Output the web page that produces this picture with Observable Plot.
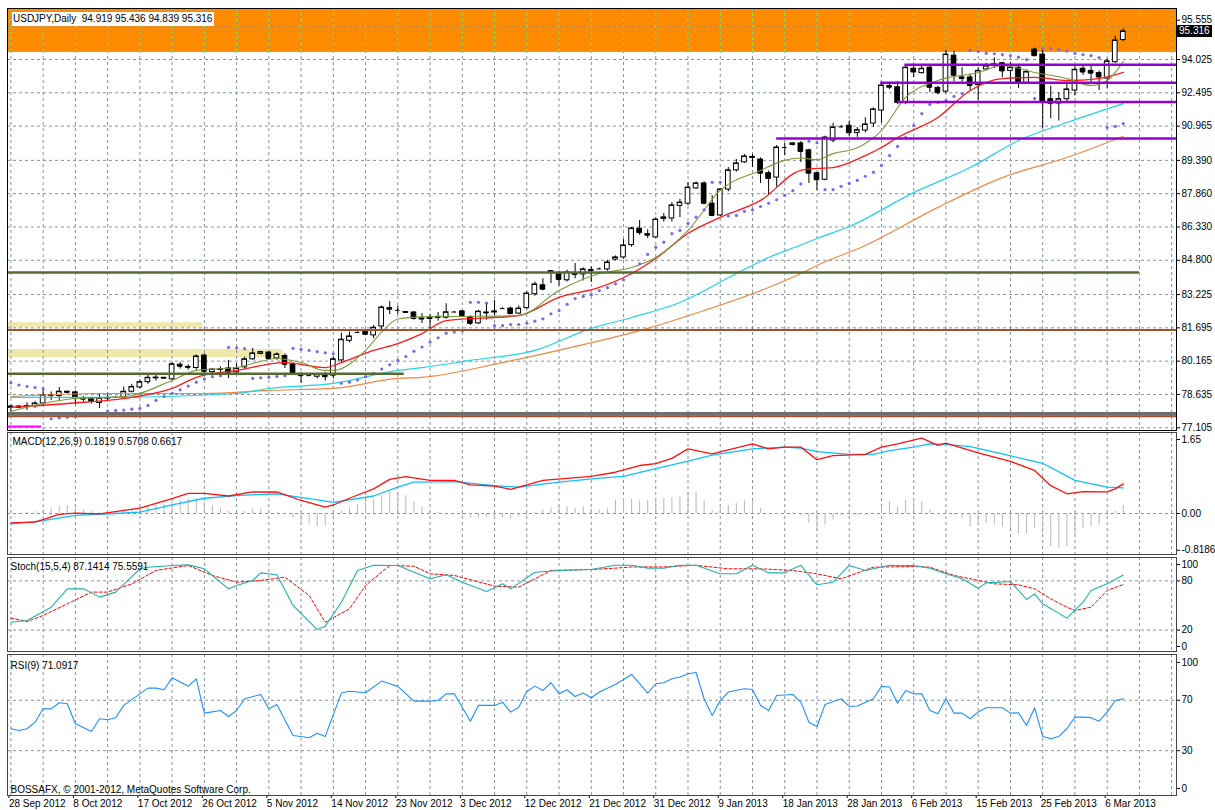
<!DOCTYPE html>
<html><head><meta charset="utf-8">
<script src="https://cdn.jsdelivr.net/npm/d3@7"></script>
<script src="https://cdn.jsdelivr.net/npm/@observablehq/plot@0.6"></script>
<style>
body{margin:0;background:#fff;}
#chart{position:relative;width:1215px;height:810px;background:#fff;font-family:"Liberation Sans",Arial,sans-serif;font-size:10px;overflow:hidden}
#chart svg{position:absolute;left:0;}
.title{position:absolute;left:12px;top:12px;background:#fff;padding:0 2px 0 1px;font-size:10px;line-height:14px;color:#000;white-space:pre}
.pricebox{position:absolute;left:1177px;top:25px;background:#000;color:#fff;padding:0 2px;font-size:10px;line-height:12px}
</style></head><body><div id="chart"></div>
<script>
// ---------- DATA ----------
const chartTitle = "USDJPY,Daily  94.919 95.436 94.839 95.316";
const lastPrice = 95.316;
const macdLabel = "MACD(12,26,9) 0.1819 0.5708 0.6617";
const stochLabel = "Stoch(15,5,4) 87.1414 75.5591";
const rsiLabel = "RSI(9) 71.0917";
const copyright = "BOSSAFX, \u00a9 2001-2012, MetaQuotes Software Corp.";

const dateLabels = ["28 Sep 2012","8 Oct 2012","17 Oct 2012","26 Oct 2012","5 Nov 2012","14 Nov 2012","23 Nov 2012","3 Dec 2012","12 Dec 2012","21 Dec 2012","31 Dec 2012","9 Jan 2013","18 Jan 2013","28 Jan 2013","6 Feb 2013","15 Feb 2013","25 Feb 2013","6 Mar 2013"];
const labelBars = [0,8,16,24,32,40,48,56,64,72,80,88,96,104,112,120,128,136];

const priceTicks = [95.555,94.025,92.495,90.965,89.390,87.860,86.330,84.800,83.225,81.695,80.165,78.635,77.105];
const topPriceTick = [95.555];
const lowerPriceTicks = priceTicks.slice(1);
const macdTicks = [1.65, 0, -0.8186];
const macdTickText = ["1.65","0.00","-0.8186"];
const stochTicks = [100, 80, 20, 0];
const stochLevels = [80, 20];
const rsiTicks = [100, 70, 30, 0];
const rsiLevels = [70, 30];

const open = [78.02,78.08,78.05,78.1,78.22,78.57,78.56,78.76,78.73,78.45,
78.42,78.24,78.45,78.5,78.48,78.76,78.96,79.2,79.38,79.4,
79.33,80.0,79.9,79.85,80.42,79.66,79.76,79.83,79.65,79.88,
80.25,80.5,80.56,80.29,80.4,80.02,79.53,79.5,79.45,79.55,
79.5,80.2,81.1,81.48,81.5,81.35,81.76,82.6,82.5,82.42,
82.4,82.13,82.1,82.15,82.16,82.42,82.45,82.18,81.9,82.4,
82.4,82.58,82.58,82.35,82.6,83.24,83.65,84.3,84.18,83.88,
84.2,84.15,84.35,84.4,84.38,84.83,84.93,85.5,86.25,86.0,
85.85,86.7,86.72,87.3,87.4,88.1,88.33,87.4,86.86,88.05,
88.93,89.3,89.55,89.43,88.8,88.6,89.98,90.1,90.17,89.85,
88.8,88.5,90.3,90.93,90.98,90.65,90.76,91.08,91.68,92.8,
92.75,92.05,93.6,93.4,93.65,92.72,92.55,94.2,93.2,93.2,
92.85,93.57,93.72,93.85,93.5,93.65,92.95,94.48,94.25,92.2,
92.0,92.2,92.6,93.6,93.5,93.4,93.15,93.9,94.919];
const high = [78.15,78.12,78.25,78.3,78.82,78.75,78.96,78.78,78.8,78.55,
78.5,78.68,78.7,78.55,78.98,79.1,79.3,79.55,79.55,79.42,
80.1,80.1,80.0,80.45,80.5,79.82,79.9,80.2,80.05,80.35,
80.75,80.6,80.6,80.55,80.5,80.1,79.65,79.53,79.6,79.65,
80.35,81.45,81.5,81.52,81.6,81.8,82.7,82.9,82.7,82.45,
82.45,82.35,82.3,82.4,82.8,82.45,82.5,82.25,82.5,82.85,
82.95,82.62,82.65,82.7,83.35,83.8,83.95,84.33,84.3,84.35,
84.65,84.45,84.5,84.44,84.8,85.0,85.75,86.3,86.63,86.2,
86.75,86.95,87.45,87.6,88.37,88.4,88.4,87.77,88.1,89.06,
89.43,89.66,89.66,89.5,88.9,90.07,90.17,90.2,90.25,89.9,
88.85,90.5,91.1,91.0,91.2,90.9,91.35,91.8,92.9,92.9,
93.0,93.75,93.75,93.8,93.7,92.8,94.45,94.4,93.65,93.35,
93.65,93.85,94.1,93.9,93.9,93.8,93.55,94.55,94.45,92.8,
92.5,92.95,93.7,93.7,93.7,93.5,94.05,95.1,95.436];
const low = [77.85,77.98,77.9,78.0,78.12,78.36,78.36,78.7,78.15,78.3,
78.2,77.99,78.3,78.45,78.45,78.7,78.9,79.1,79.25,79.36,
79.25,79.8,79.75,79.75,79.6,79.6,79.6,79.37,79.55,79.8,
80.2,80.46,80.2,80.2,79.83,79.5,79.15,79.46,79.35,79.25,
79.35,80.1,81.0,81.44,81.35,81.2,81.6,82.3,82.3,82.38,
82.05,81.9,81.66,82.0,82.1,82.39,82.2,81.8,81.85,82.05,
82.25,82.54,82.3,82.3,82.55,83.15,83.4,83.73,83.62,83.8,
83.95,83.85,83.78,84.36,84.3,84.78,84.85,85.4,85.95,85.8,
85.8,86.55,86.55,86.76,87.3,88.05,87.35,86.8,86.8,87.95,
88.85,89.25,89.06,88.33,87.77,88.15,89.6,90.05,89.3,88.33,
88.0,88.45,90.2,90.88,90.5,90.45,90.65,90.9,91.1,92.65,
91.95,91.95,93.2,93.35,92.5,92.4,92.45,93.0,92.9,92.6,
92.15,93.5,93.62,93.2,92.9,92.7,92.9,94.15,90.85,91.3,
91.2,92.1,92.35,93.3,92.9,92.6,92.7,93.85,94.839];
const close = [78.08,78.04,78.1,78.22,78.59,78.6,78.76,78.73,78.45,78.42,
78.32,78.45,78.48,78.5,78.76,78.98,79.2,79.4,79.41,79.38,
80.02,79.93,79.88,80.38,79.7,79.78,79.79,79.65,79.83,80.25,
80.52,80.58,80.29,80.47,80.02,79.6,79.5,79.5,79.55,79.45,
80.25,81.15,81.3,81.48,81.4,81.7,82.63,82.55,82.5,82.4,
82.13,82.1,82.17,82.2,82.41,82.42,82.26,81.9,82.44,82.38,
82.45,82.58,82.35,82.58,83.27,83.69,83.47,84.25,83.92,84.24,
84.15,84.38,84.32,84.4,84.7,84.93,85.48,86.26,86.07,85.95,
86.67,86.77,87.32,87.45,88.14,88.33,87.42,86.86,88.05,88.93,
89.25,89.57,89.52,88.8,88.56,89.98,89.98,90.17,89.8,88.8,
88.5,90.44,90.9,90.93,90.66,90.78,91.04,91.73,92.83,92.75,
92.05,93.65,93.45,93.6,92.75,92.5,94.25,93.3,93.15,92.83,
93.5,93.72,93.8,93.5,93.65,92.95,93.45,94.2,92.1,92.0,
92.2,92.65,93.55,93.45,93.4,93.22,93.94,94.9,95.316];

const sar = [79.17,79.07,79.0,78.95,78.9,77.52,77.56,77.59,77.62,77.66,
77.7,77.74,77.87,77.9,77.92,77.96,78.0,78.13,78.36,78.54,
78.69,78.85,79.02,79.2,79.35,79.45,79.5,80.8,80.78,80.74,
79.37,79.4,79.43,79.47,79.5,80.75,80.71,80.66,80.6,80.55,
80.5,79.15,79.2,79.3,79.45,79.6,79.8,80.0,80.2,80.38,
80.62,80.81,81.04,81.24,81.45,81.5,81.55,82.87,82.87,82.83,
81.8,81.8,81.85,81.85,81.91,82.0,82.11,82.34,82.49,82.78,
83.04,83.14,83.22,83.41,83.54,83.72,83.9,84.21,84.64,85.07,
85.4,85.63,86.02,86.17,86.5,86.78,87.12,88.38,88.38,86.84,
86.86,87.05,87.12,87.27,87.42,87.58,87.78,88.0,88.31,90.27,
90.2,88.05,88.05,88.2,88.33,88.47,88.66,88.84,89.16,89.61,
90.03,90.44,90.99,91.54,91.96,92.05,92.14,92.33,92.46,94.44,
94.39,94.31,94.29,94.25,94.2,94.13,94.02,92.23,94.53,94.53,
94.48,94.41,94.31,94.25,94.2,94.11,90.9,90.95,91.08];

// moving averages read at sample bars: [bar, price]
const maFast = [[0,77.85],[4,78.22],[8,78.45],[12,78.5],[15,78.59],[20,79.28],[23,79.74],[28,79.87],[33,80.29],[36,80.1],[39,79.74],[40,79.74],[44,80.66],[46,81.5],[48,82.1],[51,82.2],[56,82.22],[63,82.26],[68,83.41],[73,84.19],[77,84.47],[80,84.93],[84,86.17],[88,88.01],[93,88.93],[96,89.39],[98,89.5],[100,89.42],[102,89.7],[105,89.97],[108,90.76],[111,92.28],[115,93.06],[120,93.43],[123,93.75],[127,93.43],[131,93.15],[134,92.83],[136,93.06],[138,93.93]];
const maRed = [[0,78.04],[7,78.22],[15,78.5],[20,78.91],[23,79.42],[28,79.74],[34,80.1],[39,79.87],[41,80.1],[45,80.66],[48,80.97],[51,81.43],[54,82.03],[63,82.26],[68,83.1],[73,83.55],[77,84.19],[80,84.88],[84,86.03],[88,86.77],[93,87.55],[98,88.93],[100,89.02],[102,89.06],[106,89.61],[108,89.98],[110,90.44],[115,91.36],[119,92.6],[123,93.15],[127,93.2],[131,93.06],[135,93.15],[138,93.43]];
const maCyan = [[0,78.5],[11,78.5],[28,78.68],[32,78.91],[40,79.14],[48,79.74],[51,79.87],[57,80.2],[65,80.66],[72,81.67],[77,82.17],[83,82.86],[90,84.19],[94,84.93],[98,85.5],[100,85.8],[104,86.35],[112,87.91],[119,89.06],[125,90.3],[131,91.13],[138,92.0]];
const maOrange = [[0,78.54],[11,78.68],[24,78.68],[32,78.82],[40,78.91],[48,79.37],[51,79.42],[61,80.1],[69,80.75],[79,81.67],[86,82.49],[94,83.55],[98,84.19],[100,84.56],[106,85.48],[115,87.23],[123,88.6],[131,89.52],[138,90.5]];

// chart objects (price levels, bar extents)
const zoneOrange = [{lo: 94.35, hi: 96.6, from: -2, to: 146}];
const zoneYellow = [{lo: 81.71, hi: 81.93, from: -2, to: 23.8},{lo: 80.33, hi: 80.70, from: -2, to: 33.8}];
const linesPurple = [{price: 93.78, from: 110.9, to: 146},{price: 92.955, from: 107.9, to: 146},{price: 92.07, from: 110, to: 146},{price: 90.40, from: 95, to: 146}];
const linesOlive = [{price: 84.24, from: -2, to: 140},{price: 79.59, from: -2, to: 48.8}];
const linesBrown = [{price: 81.60, from: -2, to: 146},{price: 77.63, from: -2, to: 146}];
const linesGray = [{price: 77.75, from: -2, to: 146}];
const linesMagenta = [{price: 77.16, from: -2, to: 3.8}];

// MACD
const macdHist = [0,0.01,0.02,0.04,0.08,0.12,0.16,0.17,0.12,0.08,
0.05,0.03,0.04,0.05,0.08,0.1,0.13,0.18,0.2,0.25,
0.27,0.3,0.32,0.33,0.25,0.18,0.12,0.05,0.02,0.05,
0.1,0.1,0.06,0.02,-0.02,-0.1,-0.2,-0.25,-0.3,-0.28,
-0.1,0.05,0.12,0.2,0.25,0.3,0.4,0.47,0.45,0.4,
0.25,0.15,0.05,0.02,0,-0.02,-0.05,-0.1,-0.1,-0.08,
-0.1,-0.1,-0.12,-0.08,-0.05,0.02,0.08,0.12,0.18,0.15,
0.12,0.15,0.1,0.07,0.1,0.3,0.33,0.32,0.28,0.3,
0.31,0.33,0.35,0.37,0.45,0.47,0.3,0.07,0.15,0.18,
0.22,0.28,0.28,0.11,0,-0.02,0.02,0.02,-0.05,-0.22,
-0.41,-0.26,-0.15,-0.05,-0.04,-0.04,-0.04,0,0.15,0.26,
0.15,0.3,0.33,0.26,0.07,-0.02,-0.01,-0.04,-0.11,-0.3,
-0.19,-0.22,-0.26,-0.3,-0.33,-0.45,-0.45,-0.33,-0.45,-0.74,
-0.78,-0.74,-0.48,-0.33,-0.3,-0.26,-0.04,0.05,0.18];
const macdMain = [[0,-0.21],[3,-0.19],[6,-0.02],[8,0.01],[11,-0.01],[16,0.12],[20,0.33],[22,0.45],[24,0.45],[27,0.39],[30,0.48],[33,0.48],[36,0.29],[39,0.14],[40,0.19],[42,0.34],[45,0.55],[47,0.76],[49,0.82],[52,0.74],[55,0.74],[57,0.64],[60,0.61],[62,0.54],[66,0.74],[72,0.83],[75,0.92],[78,1.07],[80,1.11],[82,1.23],[84,1.44],[87,1.33],[92,1.55],[94,1.44],[96,1.48],[98,1.48],[100,1.2],[102,1.29],[106,1.32],[108,1.48],[110,1.55],[113,1.68],[115,1.52],[116,1.57],[120,1.35],[124,1.16],[127,0.96],[129,0.62],[131,0.44],[133,0.49],[136,0.48],[137,0.55],[138,0.66]];
const macdSignal = [[0,-0.23],[4,-0.16],[8,-0.04],[13,0],[16,0.03],[20,0.19],[24,0.34],[28,0.4],[33,0.44],[37,0.33],[40,0.25],[45,0.39],[48,0.59],[50,0.7],[55,0.71],[60,0.62],[63,0.59],[68,0.7],[73,0.79],[76,0.83],[80,1.0],[84,1.17],[87,1.3],[92,1.44],[96,1.48],[98,1.46],[100,1.38],[104,1.32],[107,1.32],[109,1.4],[112,1.48],[114,1.55],[116,1.54],[119,1.49],[123,1.33],[126,1.2],[128,1.12],[132,0.74],[136,0.59],[138,0.57]];

// Stochastic
const stochMain = [[0,29.6],[2,31.7],[5,47.9],[7,70.3],[9,70.3],[11,60.2],[13,66.3],[16,94.7],[17,96.7],[20,98.8],[22,99.5],[24,94.7],[25,86.6],[27,70.3],[28,74.4],[30,80.5],[31,89.8],[33,87.4],[35,50],[38,20.7],[39,24.8],[41,54],[43,92.7],[45,99],[48,98.8],[52,82.5],[54,87.4],[56,78.4],[59,67],[61,76.4],[62,70.3],[65,90.6],[68,92.7],[72,93.9],[75,99],[77,99],[79,95.5],[81,95.5],[83,99],[85,99],[88,88.6],[90,88.6],[92,99],[94,89.8],[96,89.8],[98,99],[100,75.2],[102,78.4],[104,98.8],[106,92.7],[109,99],[110,98.8],[112,98.8],[114,95.5],[116,88.6],[118,82.5],[120,71.1],[121,77.6],[124,79.3],[126,57.3],[127,64.2],[128,52],[131,34.6],[133,54],[134,68.3],[136,76.4],[138,87.1]];
const stochSignal = [[0,34.6],[2,30.5],[4,37.8],[7,52],[10,66.3],[12,66.3],[15,76.4],[18,92.7],[22,98.8],[25,86.6],[28,78.4],[31,80.5],[34,84.5],[37,62.2],[39,29.6],[42,45.9],[44,74.4],[47,98.8],[50,97.9],[52,88.6],[55,86.6],[60,73.6],[63,72.4],[67,92.7],[72,93.9],[75,95.5],[77,97],[81,97],[85,99],[89,94.7],[93,94.7],[97,92.7],[100,88.6],[103,82.5],[107,96.7],[112,97.5],[114,96.7],[117,86.6],[120,80.5],[122,76.4],[125,75.2],[127,70.3],[129,58.2],[131,47.9],[132,43.9],[134,47.9],[136,68.3],[138,75.6]];

// RSI
const rsi = [[0,47.4],[1,46],[2,47.4],[3,52.6],[4,63.2],[5,63.2],[6,68],[7,67.2],[8,51.3],[10,45.2],[11,55.3],[12,54.5],[13,56.1],[14,65.9],[16,75.1],[17,79.6],[18,79.6],[19,78.3],[20,87.8],[22,81.2],[23,87],[24,59.8],[26,61.9],[27,57.1],[28,61.9],[29,71.2],[31,74.6],[32,63.2],[33,66.7],[35,42.1],[37,40.2],[38,43.9],[39,41.3],[41,75.7],[42,77.2],[44,76],[46,85.2],[47,83.1],[48,81],[50,69.3],[52,69.3],[53,69.8],[54,75.1],[55,75.1],[57,53.4],[58,65.9],[60,65.9],[61,68.5],[62,60.6],[63,64.5],[64,77],[65,81.2],[66,77.8],[67,83.9],[68,75.1],[69,78.3],[70,73],[71,75.7],[72,72],[73,76.5],[75,82.5],[77,90.5],[79,75.7],[80,83.1],[81,83.9],[82,87],[83,88.4],[84,91],[85,92],[86,71.2],[87,57.9],[88,69.8],[89,76.5],[91,79.1],[92,78.5],[93,65.9],[94,61.9],[95,73.8],[97,74.6],[98,68.5],[99,52.6],[100,49.2],[101,66.7],[103,71.2],[104,65.1],[105,65.5],[107,71.2],[108,81],[109,80.5],[110,67.7],[111,77.8],[112,75.1],[113,75.1],[114,61.9],[115,59.3],[116,71.2],[117,59.8],[118,59.8],[119,55.3],[120,60.6],[121,64],[123,64],[124,59.8],[125,60],[126,50],[127,64],[128,41.3],[129,39.4],[130,41.3],[131,47.4],[132,56.6],[133,56.6],[134,56.2],[135,53.4],[136,60.6],[137,69.8],[138,71.1]];

// ---------- DRAWING ----------
const bars = open.map((o, i) => ({i, o, h: high[i], l: low[i], c: close[i]}));
const sarData = sar.map((v, i) => ({i, v}));
const histData = macdHist.map((v, i) => ({i, v}));
const gridBars = d3.range(0, 145, 4);
const HW = 0.29;

const gridStroke = "#8593a3";
const dash = "3,3";
const xDomain = [-0.42, 144.6];
const fontFamily = "Liberation Sans, Arial, sans-serif";
const common = {
  width: 1215, marginLeft: 7, marginRight: 39,
  x: {domain: xDomain, axis: null},
  style: {fontFamily, fontSize: "10px", background: "transparent", overflow: "visible", color: "#000"}
};
const pt = {x: d => d[0], y: d => d[1]};
const rightAxis = (ticks, fmt, extra = {}) => Plot.axisY({anchor: "right", ticks, tickFormat: fmt, tickSize: 3, tickPadding: 2, fontSize: 10, label: null, ...extra});

const main = Plot.plot({
  ...common, height: 431, marginTop: 8, marginBottom: 1,
  y: {domain: [76.979, 96.368], axis: null},
  marks: [
    Plot.rect(zoneOrange, {x1: "from", x2: "to", y1: "lo", y2: "hi", fill: "#ff8c00", clip: true}),
    Plot.rect(zoneYellow, {x1: "from", x2: "to", y1: "lo", y2: "hi", fill: "#eee8aa", clip: true}),
    Plot.ruleY(priceTicks, {stroke: gridStroke, strokeDasharray: dash}),
    Plot.ruleX(gridBars, {stroke: gridStroke, strokeDasharray: dash}),
    Plot.ruleX(gridBars, {y1: zoneOrange[0].lo, y2: 96.368, stroke: "#7cfc00", strokeDasharray: dash}),
    Plot.ruleY([lastPrice], {stroke: "#9a9a9a"}),
    Plot.ruleX(bars, {x: "i", y1: "l", y2: "h", stroke: "#000"}),
    Plot.rect(bars.filter(d => d.c >= d.o), {x1: d => d.i - HW, x2: d => d.i + HW, y1: "o", y2: "c", fill: "#fff", stroke: "#000"}),
    Plot.rect(bars.filter(d => d.c < d.o), {x1: d => d.i - HW, x2: d => d.i + HW, y1: "o", y2: "c", fill: "#000", stroke: "#000"}),
    Plot.ruleY(bars, {x1: d => d.i - HW, x2: d => d.i + HW, y: "c", stroke: "#000"}),
    Plot.line(maOrange, {...pt, stroke: "#ee8844", strokeWidth: 1.2, curve: "monotone-x"}),
    Plot.line(maCyan, {...pt, stroke: "#22d3e0", strokeWidth: 1.2, curve: "monotone-x"}),
    Plot.line(maRed, {...pt, stroke: "#ff1a1a", strokeWidth: 1.3, curve: "monotone-x"}),
    Plot.line(maFast, {...pt, stroke: "#7a9a3a", strokeWidth: 1.1, curve: "monotone-x"}),
    Plot.dot(sarData, {x: "i", y: "v", r: 1.6, fill: "#7b68ee"}),
    Plot.ruleY(linesGray, {y: "price", x1: "from", x2: "to", stroke: "#6e6e6e", strokeWidth: 3.5, clip: true}),
    Plot.ruleY(linesBrown, {y: "price", x1: "from", x2: "to", stroke: "#a0522d", strokeWidth: 2, clip: true}),
    Plot.ruleY(linesOlive, {y: "price", x1: "from", x2: "to", stroke: "#556b2f", strokeWidth: 2.5, clip: true}),
    Plot.ruleY(linesPurple, {y: "price", x1: "from", x2: "to", stroke: "#9400d3", strokeWidth: 2.5, clip: true}),
    Plot.ruleY(linesMagenta, {y: "price", x1: "from", x2: "to", stroke: "#ff00ff", strokeWidth: 2, clip: true}),
    rightAxis(lowerPriceTicks, d => d.toFixed(3)),
    rightAxis(topPriceTick, d => d.toFixed(3), {dy: -6}),
    Plot.frame({stroke: "#000"})
  ]
});

const macd = Plot.plot({
  ...common, height: 124, marginTop: 1, marginBottom: 1,
  y: {domain: [-0.914, 1.806], axis: null},
  marks: [
    Plot.ruleX(gridBars, {stroke: gridStroke, strokeDasharray: dash}),
    Plot.ruleY([0], {stroke: gridStroke, strokeDasharray: dash}),
    Plot.ruleX(histData, {x: "i", y1: 0, y2: "v", stroke: "#b8b8b8"}),
    Plot.line(macdSignal, {...pt, stroke: "#10bfff", strokeWidth: 1.3}),
    Plot.line(macdMain, {...pt, stroke: "#ff1010", strokeWidth: 1.3}),
    Plot.text([macdLabel], {text: d => d, frameAnchor: "top-left", textAnchor: "start", lineAnchor: "top", dx: 5, dy: 5, fontSize: 10, fill: "#000"}),
    rightAxis(macdTicks, d => macdTickText[macdTicks.indexOf(d)]),
    Plot.frame({stroke: "#444"})
  ]
});

const stoch = Plot.plot({
  ...common, height: 97, marginTop: 2, marginBottom: 1,
  y: {domain: [-6.1, 108.5], axis: null},
  marks: [
    Plot.ruleX(gridBars, {stroke: gridStroke, strokeDasharray: dash}),
    Plot.ruleY(stochLevels, {stroke: gridStroke, strokeDasharray: dash}),
    Plot.line(stochSignal, {...pt, stroke: "#ff0000", strokeWidth: 1, strokeDasharray: "3,2"}),
    Plot.line(stochMain, {...pt, stroke: "#20b2aa", strokeWidth: 1.1}),
    Plot.text([stochLabel], {text: d => d, frameAnchor: "top-left", textAnchor: "start", lineAnchor: "top", dx: 3, dy: 5, fontSize: 10, fill: "#000"}),
    rightAxis(stochTicks, d => String(d)),
    Plot.frame({stroke: "#444"})
  ]
});

const rsiPlot = Plot.plot({
  ...common, height: 158, marginTop: 2, marginBottom: 15,
  y: {domain: [-5.56, 106.3], axis: null},
  marks: [
    Plot.ruleX(gridBars, {stroke: gridStroke, strokeDasharray: dash}),
    Plot.ruleY(rsiLevels, {stroke: gridStroke, strokeDasharray: dash}),
    Plot.line(rsi, {...pt, stroke: "#1e90ff", strokeWidth: 1.1}),
    Plot.text([rsiLabel], {text: d => d, frameAnchor: "top-left", textAnchor: "start", lineAnchor: "top", dx: 3, dy: 7, fontSize: 10, fill: "#000"}),
    Plot.text([copyright], {text: d => d, frameAnchor: "bottom-left", textAnchor: "start", lineAnchor: "bottom", dx: 3, dy: -3, fontSize: 10, fill: "#000"}),
    rightAxis(rsiTicks, d => String(d)),
    Plot.axisX({anchor: "bottom", ticks: labelBars, tickFormat: d => dateLabels[labelBars.indexOf(d)], tickSize: 3, tickPadding: 1, textAnchor: "start", dx: -2, fontSize: 10, label: null}),
    Plot.frame({stroke: "#444"})
  ]
});

const chart = document.getElementById("chart");
[[main, 0], [macd, 431], [stoch, 555], [rsiPlot, 652]].forEach(([svg, top]) => {
  svg.style.top = top + "px";
  chart.appendChild(svg);
});
const t = document.createElement("div"); t.className = "title"; t.textContent = chartTitle; chart.appendChild(t);
const pb = document.createElement("div"); pb.className = "pricebox"; pb.textContent = lastPrice.toFixed(3); chart.appendChild(pb);
</script></body></html>
